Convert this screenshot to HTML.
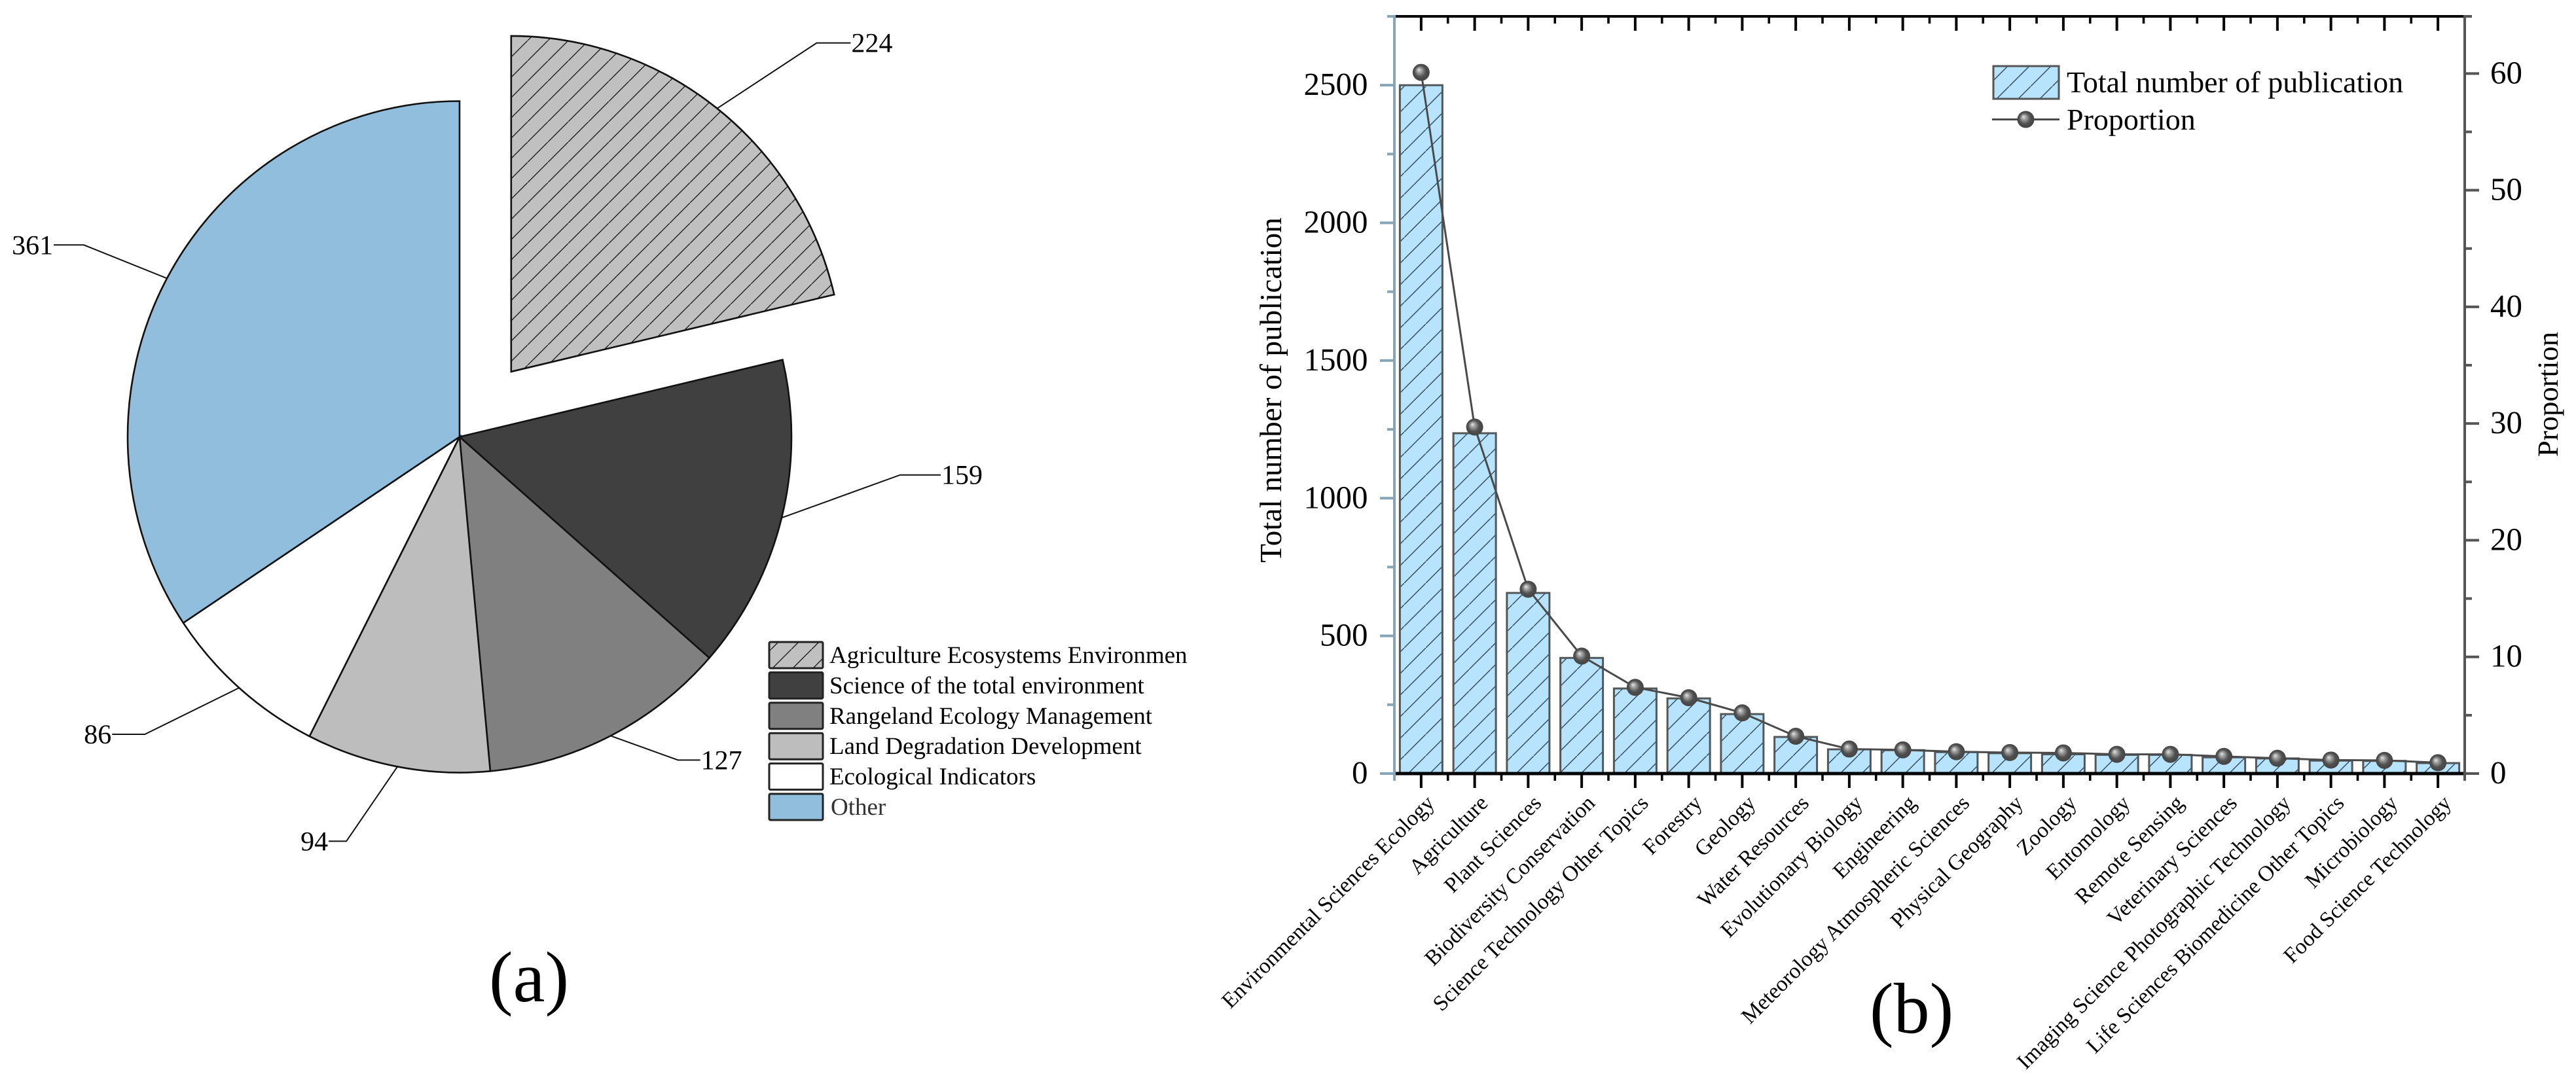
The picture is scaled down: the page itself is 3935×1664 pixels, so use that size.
<!DOCTYPE html>
<html lang="en">
<head>
<meta charset="utf-8">
<title>Journal distribution and research area publications</title>
<style>
html,body{margin:0;padding:0;background:#fff;}
svg{display:block;font-family:"Liberation Serif","Times New Roman",serif;text-rendering:geometricPrecision;}
</style>
</head>
<body>
<svg id="figure" xmlns="http://www.w3.org/2000/svg" width="3935" height="1664" viewBox="0 0 3935 1664">
  <defs>
    <pattern id="pie-hatch" patternUnits="userSpaceOnUse" width="31" height="31">
      <rect width="31" height="31" fill="#c0c0c0"/>
      <path d="M-4,35 L35,-4" stroke="#111" stroke-width="1.3"/>
    </pattern>
    <pattern id="bar-hatch" patternUnits="userSpaceOnUse" width="33" height="33">
      <rect width="33" height="33" fill="#b8e3fc"/>
      <path d="M-4,37 L37,-4" stroke="#2f4a5f" stroke-width="1.4"/>
    </pattern>
    <radialGradient id="ball" cx="0.5" cy="0.5" r="0.55" fx="0.36" fy="0.34">
      <stop offset="0" stop-color="#e6e6e6"/>
      <stop offset="0.22" stop-color="#a8a8a8"/>
      <stop offset="0.6" stop-color="#505050"/>
      <stop offset="1" stop-color="#414141"/>
    </radialGradient>
  </defs>
  <rect x="0" y="0" width="3935" height="1664" fill="#fff"/>

  <g id="pie-chart"></g>

  <g id="pie-legend" font-size="37" fill="#000">
    <g>
      <rect x="1175" y="981" width="82" height="40" rx="2" fill="url(#pie-hatch)" stroke="#222" stroke-width="3"/>
      <text x="1267" y="1013">Agriculture Ecosystems Environmen</text>
    </g>
    <g>
      <rect x="1175" y="1027.4" width="82" height="40" rx="2" fill="#404040" stroke="#222" stroke-width="3"/>
      <text x="1267" y="1059.4">Science of the total environment</text>
    </g>
    <g>
      <rect x="1175" y="1073.8" width="82" height="40" rx="2" fill="#808080" stroke="#222" stroke-width="3"/>
      <text x="1267" y="1105.8">Rangeland Ecology Management</text>
    </g>
    <g>
      <rect x="1175" y="1120.2" width="82" height="40" rx="2" fill="#bdbdbd" stroke="#222" stroke-width="3"/>
      <text x="1267" y="1152.2">Land Degradation Development</text>
    </g>
    <g>
      <rect x="1175" y="1166.6" width="82" height="40" rx="2" fill="#fff" stroke="#222" stroke-width="3"/>
      <text x="1267" y="1198.6">Ecological Indicators</text>
    </g>
    <g>
      <rect x="1175" y="1213" width="82" height="40" rx="2" fill="#92bedd" stroke="#222" stroke-width="3"/>
      <text x="1269" y="1245" fill="#333">Other</text>
    </g>
  </g>

  <text x="747" y="1530" font-size="110">(a)</text>

  <g id="bar-chart"></g>

  <text font-size="47.2" text-anchor="middle" transform="translate(1957,596) rotate(-90)">Total number of publication</text>
  <text font-size="44.7" text-anchor="middle" transform="translate(3907,602.5) rotate(-90)">Proportion</text>

  <g id="bar-legend" font-size="46">
    <g>
      <rect x="3045" y="101" width="100" height="50" fill="url(#bar-hatch)" stroke="#555" stroke-width="3"/>
      <text x="3157" y="141">Total number of publication</text>
    </g>
    <g>
      <line x1="3043" y1="182.5" x2="3146" y2="182.5" stroke="#4a4a4a" stroke-width="3"/>
      <circle cx="3094.5" cy="182.5" r="13" fill="url(#ball)"/>
      <text x="3157" y="198">Proportion</text>
    </g>
  </g>

  <text x="2856" y="1578" font-size="110">(b)</text>
</svg>

<script>
// ---- Pie data ----
const pieLabels = ["Agriculture Ecosystems Environmen", "Science of the total environment", "Rangeland Ecology Management", "Land Degradation Development", "Ecological Indicators", "Other"];
const pieValues = [224, 159, 127, 94, 86, 361];

// ---- Bar / line data ----
const categories = ["Environmental Sciences Ecology", "Agriculture", "Plant Sciences", "Biodiversity Conservation", "Science Technology Other Topics", "Forestry", "Geology", "Water Resources", "Evolutionary Biology", "Engineering", "Meteorology Atmospheric Sciences", "Physical Geography", "Zoology", "Entomology", "Remote Sensing", "Veterinary Sciences", "Imaging Science Photographic Technology", "Life Sciences Biomedicine Other Topics", "Microbiology", "Food Science Technology"];
const publications = [2500, 1236, 656, 420, 309, 273, 216, 133, 88, 85, 78, 74, 70, 68, 68, 59, 55, 47, 46, 38];
const proportions = [60.1, 29.7, 15.8, 10.07, 7.39, 6.5, 5.2, 3.2, 2.1, 2.03, 1.87, 1.8, 1.77, 1.65, 1.65, 1.47, 1.31, 1.16, 1.13, 0.93];
const leftTicks = [0, 500, 1000, 1500, 2000, 2500];
const leftMinorTicks = [250, 750, 1250, 1750, 2250, 2750];
const rightTicks = [0, 10, 20, 30, 40, 50, 60];
const rightMinorTicks = [5, 15, 25, 35, 45, 55, 64.9];

const NS = 'http://www.w3.org/2000/svg';
function make(tag, attrs, parent, text) {
  const node = document.createElementNS(NS, tag);
  for (const k in attrs) node.setAttribute(k, attrs[k]);
  if (text !== undefined) node.textContent = text;
  parent.appendChild(node);
  return node;
}

// ---- Pie drawing ----
(function () {
  const g = document.getElementById('pie-chart');
  const cx = 702, cy = 667.5, rx = 507, ry = 513, explode = 127;
  const fills = ['url(#pie-hatch)', '#404040', '#808080', '#bdbdbd', '#ffffff', '#92bedd'];
  // leader geometry relative to each slice's arc midpoint: elbow dx, elbow dy, tail length
  const leaders = [[152, -100, 52], [181, -65.5, 62], [103, 37, 34], [-78, 114, -27], [-144, 71, -50], [-127, -51, -46]];
  const total = pieValues.reduce(function (a, b) { return a + b; }, 0);
  function pt(ox, oy, a) { return [ox + rx * Math.sin(a), oy - ry * Math.cos(a)]; }
  let start = 0;
  pieValues.forEach(function (v, i) {
    const sweep = v / total * 2 * Math.PI;
    const end = start + sweep;
    const mid = start + sweep / 2;
    let ox = cx, oy = cy;
    if (i === 0) {
      ox += explode * Math.sin(mid);
      oy -= explode * Math.cos(mid);
    }
    const p0 = pt(ox, oy, start), p1 = pt(ox, oy, end);
    const slice = make('path', {
      d: 'M' + ox + ',' + oy + ' L' + p0[0] + ',' + p0[1] + ' A' + rx + ',' + ry + ' 0 ' + (sweep > Math.PI ? 1 : 0) + ' 1 ' + p1[0] + ',' + p1[1] + ' Z',
      fill: fills[i], stroke: '#111', 'stroke-width': 2.6, 'stroke-linejoin': 'miter'
    }, g);
    
    

    const a = pt(ox, oy, mid);
    const L = leaders[i];
    const ex = a[0] + L[0], ey = a[1] + L[1], tx = ex + L[2];
    const leader = make('polyline', {
      points: a[0] + ',' + a[1] + ' ' + ex + ',' + ey + ' ' + tx + ',' + ey,
      fill: 'none', stroke: '#111', 'stroke-width': 2
    }, g);
    
    
    const lab = make('text', {
      x: tx + (L[2] > 0 ? 1 : -1), y: ey + 14, 'font-size': 42,
      'text-anchor': L[2] > 0 ? 'start' : 'end'
    }, g, String(v));
    
    
    start = end;
  });
})();

// ---- Bar / line drawing ----
(function () {
  const g = document.getElementById('bar-chart');
  const X0 = 2130, X1 = 3765, Y0 = 1182, Y1 = 25;
  const leftMax = 2750, rightMax = 64.9;
  const pitch = (X1 - X0) / categories.length;
  function xC(i) { return X0 + pitch * (i + 0.5); }
  function yL(v) { return Y0 - v / leftMax * (Y0 - Y1); }
  function yR(v) { return Y0 - v / rightMax * (Y0 - Y1); }
  const barW = pitch * 0.795;
  const leftColor = '#85a5b8', rightColor = '#555555';
  const MAJ = 22, MIN = 11;

  // bars
  publications.forEach(function (v, i) {
    const bar = make('rect', {
      x: xC(i) - barW / 2, y: yL(v), width: barW, height: Y0 - yL(v),
      fill: 'url(#bar-hatch)', stroke: '#52575a', 'stroke-width': 3
    }, g);
    
    
  });

  // x ticks (top + bottom)
  for (let i = 0; i <= categories.length; i++) {
    const xb = X0 + pitch * i;
    const tb = make('line', { x1: xb, y1: Y0, x2: xb, y2: Y0 + MIN, stroke: '#000', 'stroke-width': 3.6 }, g);
    
    
    const tt = make('line', { x1: xb, y1: Y1, x2: xb, y2: Y1 + MIN, stroke: '#000', 'stroke-width': 3.6 }, g);
    
    
  }
  categories.forEach(function (c, i) {
    const x = xC(i);
    const tb = make('line', { x1: x, y1: Y0, x2: x, y2: Y0 + MAJ, stroke: '#000', 'stroke-width': 4 }, g);
    
    
    const tt = make('line', { x1: x, y1: Y1, x2: x, y2: Y1 + MAJ, stroke: '#000', 'stroke-width': 4 }, g);
    
    
    const ax = x + 22, ay = 1229;
    const lab = make('text', { x: ax, y: ay, 'font-size': 33.4, 'text-anchor': 'end', transform: 'rotate(-45 ' + ax + ' ' + ay + ')' }, g, c);
    
    
  });

  // left axis
  leftMinorTicks.forEach(function (v) {
    const t = make('line', { x1: X0 - MIN, y1: yL(v), x2: X0, y2: yL(v), stroke: leftColor, 'stroke-width': 4 }, g);
    
    
  });
  leftTicks.forEach(function (v) {
    const t = make('line', { x1: X0 - MAJ, y1: yL(v), x2: X0, y2: yL(v), stroke: leftColor, 'stroke-width': 4 }, g);
    
    
    const lab = make('text', { x: 2089.5, y: yL(v) + 15, 'font-size': 49, 'text-anchor': 'end' }, g, String(v));
    
    
  });
  const leftAxis = make('line', { x1: X0, y1: Y1 - 2, x2: X0, y2: Y0 + MIN, stroke: leftColor, 'stroke-width': 4 }, g);
  
  

  // right axis
  rightMinorTicks.forEach(function (v) {
    const t = make('line', { x1: X1, y1: yR(v), x2: X1 + MIN, y2: yR(v), stroke: rightColor, 'stroke-width': 4 }, g);
    
    
  });
  rightTicks.forEach(function (v) {
    const t = make('line', { x1: X1, y1: yR(v), x2: X1 + MAJ, y2: yR(v), stroke: rightColor, 'stroke-width': 4 }, g);
    
    
    const lab = make('text', { x: 3804, y: yR(v) + 15, 'font-size': 49 }, g, String(v));
    
    
  });
  const rightAxis = make('line', { x1: X1, y1: Y1 - 2, x2: X1, y2: Y0 + MIN, stroke: rightColor, 'stroke-width': 4 }, g);
  
  

  // top & bottom axes
  const topAxis = make('line', { x1: X0 + 2, y1: Y1, x2: X1 - 2, y2: Y1, stroke: '#000', 'stroke-width': 4 }, g);
  
  
  const bottomAxis = make('line', { x1: X0 + 2, y1: Y0, x2: X1 - 2, y2: Y0, stroke: '#000', 'stroke-width': 5 }, g);
  
  

  // proportion line
  const pts = proportions.map(function (v, i) { return xC(i) + ',' + yR(v); }).join(' ');
  const line = make('polyline', { points: pts, fill: 'none', stroke: '#4a4a4a', 'stroke-width': 3 }, g);
  
  
  proportions.forEach(function (v, i) {
    const m = make('circle', { cx: xC(i), cy: yR(v), r: 13, fill: 'url(#ball)' }, g);
    
    
  });
})();
</script>
</body>
</html>
